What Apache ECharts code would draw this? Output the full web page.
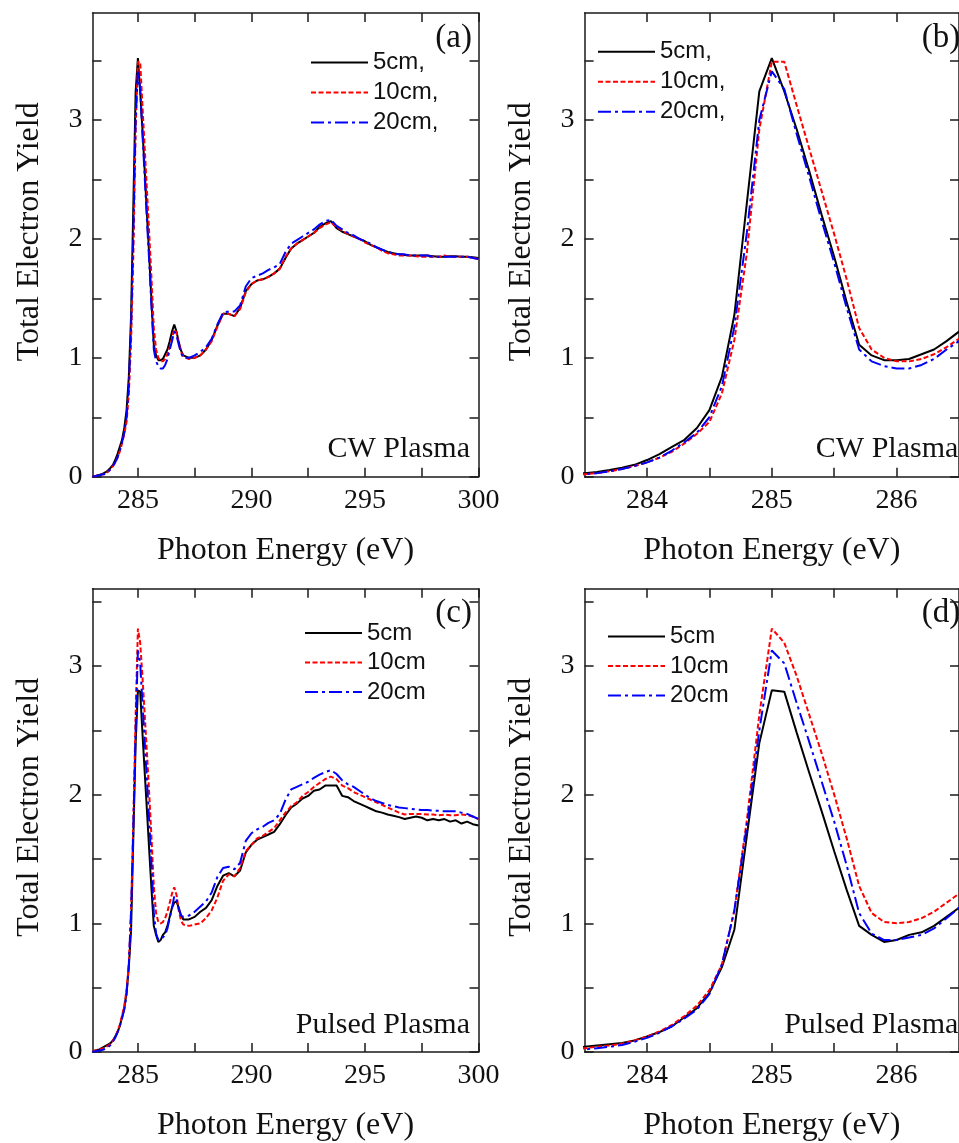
<!DOCTYPE html>
<html><head><meta charset="utf-8">
<script src="https://cdn.jsdelivr.net/npm/echarts@6/dist/echarts.min.js"></script>
<style>html,body{margin:0;padding:0;background:#fff}#c{width:959px;height:1143px}</style>
</head><body><div id="c"></div>
<script>
// ---------------- DATA ----------------
const energy = [283.0,283.1,283.2,283.3,283.4,283.5,283.6,283.7,283.8,283.9,
  284.0,284.1,284.2,284.3,284.4,284.5,284.6,284.7,284.8,284.9,
  285.0,285.1,285.2,285.3,285.4,285.5,285.6,285.7,285.8,285.9,
  286.0,286.1,286.2,286.3,286.4,286.5,286.6,286.7,286.8,286.9,287.0,
  287.25,287.5,287.75,288.0,288.25,288.5,288.75,289.0,289.25,289.5,289.75,290.0,
  290.25,290.5,290.75,291.0,291.25,291.5,291.75,292.0,292.25,292.5,292.75,293.0,
  293.25,293.5,293.75,294.0,294.25,294.5,294.75,295.0,295.25,295.5,295.75,296.0,
  296.25,296.5,296.75,297.0,297.25,297.5,297.75,298.0,298.25,298.5,298.75,299.0,
  299.25,299.5,299.75,300.0];

// CW plasma
const cw5 = [0.00,0.005,0.01,0.015,0.02,0.03,0.04,0.056,0.076,0.10,
  0.14,0.19,0.25,0.31,0.41,0.56,0.84,1.36,2.30,3.24,
  3.52,3.24,2.92,2.57,2.20,1.85,1.47,1.11,1.02,0.98,
  0.98,0.99,1.03,1.07,1.14,1.22,1.28,1.22,1.13,1.06,1.02,
  1.00,1.00,1.02,1.07,1.15,1.27,1.37,1.37,1.35,1.42,1.56,1.62,
  1.65,1.66,1.68,1.71,1.75,1.84,1.92,1.96,1.99,2.02,2.05,2.10,
  2.13,2.15,2.09,2.06,2.04,2.02,2.00,1.98,1.95,1.93,1.91,1.89,
  1.88,1.87,1.865,1.86,1.86,1.86,1.86,1.855,1.85,1.85,1.855,1.855,
  1.85,1.85,1.845,1.84];
const cw10 = [0.00,0.003,0.008,0.012,0.018,0.02,0.03,0.045,0.065,0.09,
  0.12,0.16,0.21,0.28,0.36,0.46,0.70,1.15,1.88,2.92,
  3.49,3.49,3.12,2.76,2.40,2.04,1.66,1.25,1.07,1.00,
  0.97,0.97,0.99,1.03,1.09,1.16,1.24,1.21,1.12,1.05,1.01,
  0.99,1.00,1.02,1.07,1.14,1.26,1.37,1.37,1.35,1.41,1.55,1.62,
  1.65,1.66,1.68,1.71,1.75,1.85,1.92,1.96,1.99,2.02,2.05,2.09,
  2.12,2.14,2.10,2.07,2.04,2.02,2.00,1.97,1.95,1.93,1.90,1.88,
  1.87,1.86,1.86,1.86,1.855,1.85,1.85,1.85,1.85,1.86,1.85,1.85,
  1.85,1.85,1.84,1.83];
const cw20 = [0.00,0.003,0.008,0.012,0.018,0.02,0.03,0.045,0.065,0.09,
  0.12,0.16,0.22,0.29,0.37,0.50,0.76,1.26,2.05,3.00,
  3.41,3.26,2.88,2.52,2.15,1.80,1.42,1.07,0.97,0.93,
  0.91,0.91,0.94,0.99,1.07,1.14,1.22,1.19,1.11,1.04,1.00,
  1.00,1.02,1.05,1.09,1.16,1.28,1.38,1.39,1.39,1.44,1.60,1.67,
  1.69,1.71,1.74,1.76,1.79,1.89,1.96,1.99,2.02,2.05,2.08,2.12,
  2.15,2.16,2.11,2.08,2.05,2.03,2.00,1.98,1.96,1.93,1.91,1.89,
  1.88,1.87,1.87,1.86,1.86,1.86,1.86,1.85,1.85,1.85,1.85,1.85,
  1.85,1.85,1.84,1.83];

// Pulsed plasma
const pl5 = [0.00,0.01,0.015,0.02,0.03,0.04,0.05,0.06,0.07,0.09,
  0.12,0.155,0.20,0.27,0.34,0.46,0.66,0.95,1.68,2.40,
  2.81,2.80,2.48,2.17,1.87,1.56,1.26,0.98,0.91,0.855,
  0.87,0.91,0.93,0.98,1.05,1.12,1.16,1.17,1.12,1.06,1.03,
  1.03,1.05,1.09,1.12,1.18,1.29,1.37,1.39,1.365,1.41,1.55,1.61,
  1.65,1.67,1.69,1.71,1.77,1.84,1.90,1.93,1.97,1.99,2.03,2.04,
  2.07,2.07,2.07,1.99,1.98,1.95,1.93,1.91,1.89,1.87,1.86,1.845,
  1.835,1.825,1.81,1.82,1.83,1.82,1.80,1.81,1.80,1.81,1.79,1.80,
  1.775,1.79,1.77,1.76];
const pl10 = [0.00,0.01,0.015,0.02,0.025,0.03,0.04,0.05,0.065,0.09,
  0.12,0.16,0.21,0.28,0.36,0.48,0.68,1.10,1.80,2.62,
  3.29,3.18,2.92,2.62,2.32,2.00,1.66,1.29,1.08,1.01,
  1.00,1.01,1.04,1.09,1.16,1.23,1.28,1.22,1.10,1.02,0.99,
  0.98,0.99,1.00,1.04,1.10,1.20,1.33,1.38,1.365,1.43,1.56,1.61,
  1.66,1.68,1.71,1.74,1.80,1.86,1.91,1.94,1.99,2.02,2.06,2.09,
  2.12,2.14,2.12,2.07,2.05,2.02,2.00,1.98,1.96,1.94,1.92,1.90,
  1.88,1.86,1.845,1.85,1.85,1.85,1.845,1.845,1.84,1.845,1.84,1.84,
  1.845,1.84,1.83,1.81];
const pl20 = [0.00,0.005,0.01,0.01,0.015,0.02,0.03,0.04,0.055,0.08,
  0.11,0.15,0.20,0.26,0.33,0.45,0.68,1.10,1.76,2.50,
  3.12,3.02,2.71,2.41,2.10,1.79,1.45,1.08,0.92,0.87,
  0.87,0.89,0.91,0.96,1.04,1.12,1.21,1.19,1.11,1.06,1.05,
  1.06,1.09,1.13,1.17,1.24,1.36,1.43,1.44,1.42,1.47,1.64,1.70,
  1.73,1.75,1.78,1.80,1.85,1.96,2.04,2.06,2.08,2.10,2.13,2.155,
  2.175,2.19,2.16,2.11,2.08,2.06,2.03,2.00,1.97,1.95,1.935,1.92,
  1.91,1.90,1.895,1.89,1.885,1.88,1.88,1.875,1.875,1.87,1.87,1.87,
  1.86,1.85,1.83,1.81];

const namesCW = ['5cm,', '10cm,', '20cm,'];
const namesPulsed = ['5cm', '10cm', '20cm'];
const panelTags = ['(a)', '(b)', '(c)', '(d)'];
const panelNotes = ['CW Plasma', 'CW Plasma', 'Pulsed Plasma', 'Pulsed Plasma'];

const wideXTicks = [285, 287.5, 290, 292.5, 295, 297.5, 300];
const wideXLabels = [285, 290, 295, 300];
const zoomXTicks = [284, 284.5, 285, 285.5, 286];
const zoomXLabels = [284, 285, 286];
const yTicks = [0, 0.5, 1, 1.5, 2, 2.5, 3, 3.5];
const yLabels = [0, 1, 2, 3];

const xTitle = 'Photon Energy (eV)';
const yTitle = 'Total Electron Yield';

// ---------------- CHART ----------------
const serif = '"Liberation Serif", "Times New Roman", serif';
const sans = '"Liberation Sans", Arial, sans-serif';
const ink = '#111';
const colors = ['#000000', '#ff0000', '#0000ff'];
const dashes = ['solid', [5, 2.5], [13, 4, 3, 4]];

const grids = [
  {left: 92.5, top: 13, width: 386, height: 463.7},
  {left: 584.6, top: 13, width: 382.2, height: 463.7},
  {left: 92.5, top: 588.7, width: 386, height: 464},
  {left: 584.6, top: 588.7, width: 382.2, height: 464}
];
const xRange = [[283, 300], [283.5, 286.5], [283, 300], [283.5, 286.5]];
const yMax = [3.9, 3.9, 3.6, 3.6];

const lineSt = {color: '#1a1a1a', width: 1.5};
const xAxis = [], yAxis = [];
grids.forEach((g, gi) => {
  const wide = gi % 2 === 0;
  const xt = wide ? wideXTicks : zoomXTicks;
  const xl = wide ? wideXLabels : zoomXLabels;
  const baseX = {type: 'value', gridIndex: gi, min: xRange[gi][0], max: xRange[gi][1],
    splitLine: {show: false},
    axisLine: {show: true, onZero: false, lineStyle: lineSt},
    axisTick: {show: true, inside: true, length: 9, lineStyle: lineSt, customValues: xt}};
  xAxis.push(Object.assign({}, baseX, {position: 'bottom', name: xTitle, nameLocation: 'middle', nameGap: 58,
    nameTextStyle: {fontFamily: serif, fontSize: 32, color: ink},
    axisLabel: {show: true, customValues: xl, margin: 10, fontFamily: serif, fontSize: 28, color: ink}}));
  xAxis.push(Object.assign({}, baseX, {position: 'top', axisLabel: {show: false}}));
  const baseY = {type: 'value', gridIndex: gi, min: 0, max: yMax[gi],
    splitLine: {show: false},
    axisLine: {show: true, onZero: false, lineStyle: lineSt},
    axisTick: {show: true, inside: true, length: 9, lineStyle: lineSt, customValues: yTicks}};
  yAxis.push(Object.assign({}, baseY, {position: 'left', name: yTitle, nameLocation: 'middle', nameGap: 47,
    nameTextStyle: {fontFamily: serif, fontSize: 32, color: ink, padding: [0, 0, 0, 26]},
    axisLabel: {show: true, customValues: yLabels, margin: 10, fontFamily: serif, fontSize: 28, color: ink}}));
  yAxis.push(Object.assign({}, baseY, {position: 'right', axisLabel: {show: false}}));
});

const series = [];
const sets = [[cw5, cw10, cw20], [cw5, cw10, cw20], [pl5, pl10, pl20], [pl5, pl10, pl20]];
sets.forEach((trio, gi) => {
  const names = gi < 2 ? namesCW : namesPulsed;
  trio.forEach((ys, k) => {
    series.push({type: 'line', name: names[k], xAxisIndex: gi * 2, yAxisIndex: gi * 2,
      data: energy.map((e, i) => [e, ys[i]]), symbol: 'none', showSymbol: false, clip: true,
      lineStyle: {color: colors[k], width: 2, type: dashes[k]}, itemStyle: {color: colors[k]},
      z: 2 + k});
  });
});

const legendPos = [
  {left: 310, top: 50.5, gap: 6},
  {left: 597, top: 39.7, gap: 6},
  {left: 304, top: 621, gap: 5.5},
  {left: 607, top: 624.5, gap: 5.5}
];
const legend = legendPos.map((p, gi) => ({
  data: gi < 2 ? namesCW : namesPulsed, orient: 'vertical', left: p.left, top: p.top,
  padding: 0, itemWidth: 57, itemHeight: 14, itemGap: p.gap, selectedMode: false,
  itemStyle: {opacity: 0, borderWidth: 0},
  textStyle: {fontFamily: sans, fontSize: 24, lineHeight: 24, color: ink}
}));

const graphic = [];
grids.forEach((g, gi) => {
  const right = g.left + g.width;
  graphic.push({type: 'text', x: right - 6.5, y: g.top + 25, style: {text: panelTags[gi],
    font: '33px ' + serif, fill: ink, textAlign: 'right', textVerticalAlign: 'middle'}});
  graphic.push({type: 'text', x: right - 8.5, y: g.top + g.height - 13, style: {text: panelNotes[gi],
    font: '30px ' + serif, fill: ink, textAlign: 'right', textVerticalAlign: 'bottom'}});
});

const chart = echarts.init(document.getElementById('c'));
chart.setOption({animation: false, backgroundColor: '#fff', grid: grids, xAxis, yAxis, series, legend, graphic});
</script></body></html>
